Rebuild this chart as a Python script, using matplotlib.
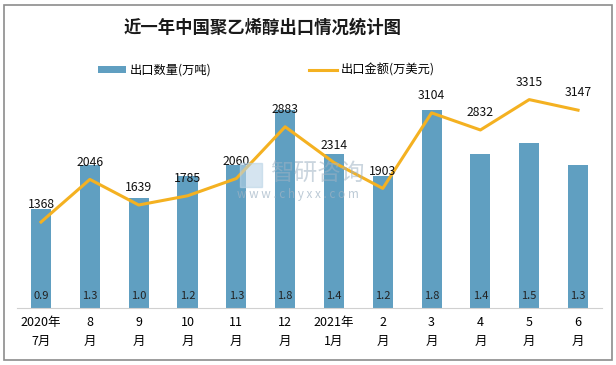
import matplotlib.pyplot as plt
from matplotlib.patches import Rectangle
import numpy as np

plt.rcParams['font.family'] = ['Noto Sans CJK SC', 'DejaVu Sans']

months = ['2020年\n7月', '8\n月', '9\n月', '10\n月', '11\n月', '12\n月',
          '2021年\n1月', '2\n月', '3\n月', '4\n月', '5\n月', '6\n月']
qty = [0.9, 1.3, 1.0, 1.2, 1.3, 1.8, 1.4, 1.2, 1.8, 1.4, 1.5, 1.3]
amount = [1368, 2046, 1639, 1785, 2060, 2883, 2314, 1903, 3104, 2832, 3315, 3147]

bar_c = '#609fc1'
line_c = '#f4b121'

fig = plt.figure(figsize=(6.16, 3.65), dpi=100)
fig.patches.append(Rectangle((0.006, 0.014), 0.987, 0.972, transform=fig.transFigure,
                             fill=False, edgecolor='#8c8c8c', lw=1.2))

ax = fig.add_axes([0.027, 0.156, 0.951, 0.603])
x = np.arange(len(months))
bars = ax.bar(x, qty, width=0.41, color=bar_c, label='出口数量(万吨)', zorder=1)
ax.set_ylim(0, 2.0)
ax.set_xlim(-0.5, len(months) - 0.5)
for xi, q in zip(x, qty):
    ax.text(xi, 0.06, f'{q:.1f}', ha='center', va='bottom', fontsize=8, color='#222222')

ax2 = ax.twinx()
ln, = ax2.plot(x, amount, color=line_c, lw=2.2, label='出口金额(万美元)', zorder=3)
ax2.set_ylim(0, 3500)
for xi, a in zip(x, amount):
    ax2.text(xi, a + 170, str(a), ha='center', va='bottom', fontsize=8.8, color='#111111')

for a in (ax, ax2):
    for s in ['top', 'right', 'left']:
        a.spines[s].set_visible(False)
    a.set_yticks([])
ax.spines['bottom'].set_color('#d0d0d0')
ax2.spines['bottom'].set_visible(False)
ax.set_xticks(x)
ax.set_xticklabels(months, fontsize=9, linespacing=1.6)
ax.tick_params(axis='x', length=0, pad=6)

# watermark
fig.patches.append(Rectangle((0.39, 0.488), 0.036, 0.066, transform=fig.transFigure,
                             fill=True, color='#b9d3e6', alpha=0.6))
fig.text(0.438, 0.523, '智研咨询', fontsize=17, color='#9fb3c4', alpha=0.55,
         ha='left', va='center')
fig.text(0.385, 0.466, 'w w w . c h y x x . c o m', fontsize=8.5, color='#9fb3c4',
         alpha=0.7, ha='left', va='center')

fig.text(0.427, 0.925, '近一年中国聚乙烯醇出口情况统计图', ha='center', va='center',
         fontsize=12.5, fontweight='bold', color='#1a1a1a')

fig.legend([bars, ln], ['出口数量(万吨)', '出口金额(万美元)'], loc='center',
           bbox_to_anchor=(0.432, 0.808), ncol=2, frameon=False, fontsize=8.8,
           columnspacing=8.0, handlelength=2.3, handleheight=0.5, handletextpad=0.3)

fig.savefig('out.png', dpi=100)
